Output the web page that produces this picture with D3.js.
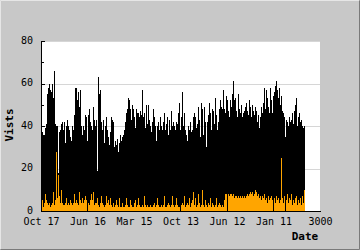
<!DOCTYPE html>
<html>
<head>
<meta charset="utf-8">
<script src="https://cdn.jsdelivr.net/npm/d3@7"></script>
<style>
  html, body { margin: 0; padding: 0; background: #c8c8c8; }
  svg { display: block; }
</style>
</head>
<body>
<div id="wrapper"></div>
<script>
// visits per bar, oldest at the left edge (one value per bar)
const visits = [
  41, 37, 36, 36, 39, 41, 55, 58, 60, 57,
  56, 60, 53, 66, 41, 40, 40, 18, 37, 38,
  41, 42, 38, 42, 32, 40, 43, 40, 38, 35,
  33, 40, 38, 45, 58, 58, 52, 56, 49, 57,
  40, 36, 40, 38, 45, 44, 33, 45, 48, 42,
  40, 38, 49, 43, 40, 43, 19, 63, 55, 57,
  42, 38, 43, 32, 40, 44, 38, 35, 31, 37,
  44, 43, 42, 30, 33, 31, 34, 28, 32, 36,
  33, 35, 36, 38, 42, 46, 48, 53, 52, 48,
  43, 50, 48, 44, 39, 48, 46, 46, 44, 47,
  45, 57, 44, 46, 39, 50, 41, 50, 43, 40,
  37, 42, 48, 44, 40, 33, 40, 42, 38, 44,
  40, 38, 42, 46, 38, 41, 44, 36, 43, 38,
  47, 40, 42, 40, 38, 42, 41, 46, 51, 38,
  44, 56, 40, 46, 38, 36, 33, 40, 38, 42,
  37, 38, 44, 46, 44, 39, 41, 49, 43, 35,
  51, 48, 36, 49, 42, 30, 42, 45, 51, 46,
  38, 48, 47, 41, 53, 45, 38, 42, 48, 52,
  49, 48, 57, 48, 46, 54, 52, 47, 44, 52,
  49, 55, 61, 52, 53, 47, 44, 55, 48, 46,
  50, 44, 46, 47, 49, 51, 47, 45, 52, 49,
  44, 50, 47, 45, 49, 47, 42, 45, 39, 44,
  49, 46, 51, 58, 48, 57, 53, 49, 46, 58,
  52, 46, 54, 56, 59, 61, 57, 53, 58, 50,
  54, 47, 46, 44, 35, 43, 42, 40, 44, 42,
  43, 46, 41, 47, 50, 53, 40, 44, 46, 42,
  43, 40, 39, 40,
]

// the orange series drawn over the visits
const other = [
  4, 5, 2, 4, 8, 5, 4, 3, 4, 2,
  3, 4, 9, 3, 5, 28, 6, 17, 7, 4,
  10, 4, 3, 3, 4, 6, 3, 4, 3, 5,
  4, 3, 4, 8, 4, 5, 4, 3, 9, 5,
  4, 6, 4, 5, 7, 5, 0, 4, 3, 5,
  8, 5, 9, 3, 4, 4, 6, 3, 2, 4,
  7, 4, 3, 2, 3, 7, 4, 5, 3, 6,
  3, 2, 4, 2, 3, 5, 3, 2, 6, 2,
  2, 4, 2, 2, 3, 6, 3, 2, 2, 5,
  3, 2, 2, 4, 5, 2, 3, 6, 3, 2,
  2, 3, 2, 7, 3, 2, 3, 2, 2, 3,
  2, 2, 3, 4, 2, 3, 6, 3, 2, 2,
  3, 2, 3, 7, 2, 2, 3, 4, 3, 2,
  3, 7, 3, 2, 3, 6, 3, 2, 2, 0,
  3, 4, 3, 7, 2, 3, 4, 3, 6, 2,
  4, 5, 9, 3, 6, 2, 3, 8, 4, 2,
  3, 10, 3, 2, 5, 3, 2, 4, 3, 6,
  2, 4, 3, 2, 3, 6, 2, 3, 4, 3,
  2, 3, 2, 5, 8, 8, 0, 8, 7, 8,
  8, 7, 8, 6, 7, 7, 6, 7, 6, 7,
  6, 7, 6, 7, 6, 7, 8, 7, 8, 9,
  8, 9, 7, 8, 10, 9, 7, 8, 6, 7,
  5, 7, 6, 8, 5, 6, 4, 7, 5, 6,
  7, 5, 0, 6, 4, 7, 5, 6, 4, 5,
  25, 6, 4, 7, 0, 5, 8, 4, 6, 5,
  8, 3, 5, 4, 6, 7, 3, 5, 4, 6,
  3, 7, 4, 10,
]

const xTicks = [0, 500, 1000, 1500, 2000, 2500, 3000]
const xTickLabels = ['Oct 17', 'Jun 16', 'Mar 15', 'Oct 13', 'Jun 12', 'Jan 11', '3000']
const yTicks = [0, 20, 40, 60, 80]
const yMinorTicks = [10, 30, 50, 70]
const gridTicks = [20, 40, 60, 80]

const daysPerBar = 3000 / 279

const dimensions = {
  width: 360,
  height: 250,
  margin: { top: 41, right: 40, bottom: 39, left: 41 },
}
dimensions.boundedWidth = dimensions.width - dimensions.margin.left - dimensions.margin.right
dimensions.boundedHeight = dimensions.height - dimensions.margin.top - dimensions.margin.bottom

const wrapper = d3.select('#wrapper')
  .append('svg')
  .attr('width', dimensions.width)
  .attr('height', dimensions.height)

wrapper.append('rect')
  .attr('width', dimensions.width)
  .attr('height', dimensions.height)
  .attr('fill', '#c8c8c8')

// bevel frame
wrapper.append('path')
  .attr('d', `M0.5,${dimensions.height - 1} V0.5 H${dimensions.width - 1}`)
  .attr('stroke', '#e6e6e6').attr('fill', 'none')
wrapper.append('path')
  .attr('d', `M0.5,${dimensions.height - 0.5} H${dimensions.width - 0.5} V0.5`)
  .attr('stroke', '#7a7a7a').attr('fill', 'none')

const bounds = wrapper.append('g')
  .attr('transform', `translate(${dimensions.margin.left},${dimensions.margin.top})`)

bounds.append('rect')
  .attr('width', dimensions.boundedWidth)
  .attr('height', dimensions.boundedHeight)
  .attr('fill', 'white')

const xScale = d3.scaleLinear()
  .domain([0, 3000])
  .range([0, dimensions.boundedWidth])

const yScale = d3.scaleLinear()
  .domain([0, 80])
  .range([dimensions.boundedHeight, 0])

bounds.append('g')
  .selectAll('line')
  .data(gridTicks)
  .enter().append('line')
  .attr('x1', 0)
  .attr('x2', dimensions.boundedWidth)
  .attr('y1', d => Math.round(yScale(d)) + 0.5)
  .attr('y2', d => Math.round(yScale(d)) + 0.5)
  .attr('stroke', '#d6d6d6')

const barX = i => Math.round(xScale(i * daysPerBar))
const barW = Math.max(1, Math.round(xScale(daysPerBar) - xScale(0)))

bounds.append('g')
  .attr('shape-rendering', 'crispEdges')
  .selectAll('rect')
  .data(visits)
  .enter().append('rect')
  .attr('x', (d, i) => barX(i))
  .attr('y', d => Math.round(yScale(d)))
  .attr('width', barW)
  .attr('height', d => dimensions.boundedHeight - Math.round(yScale(d)))
  .attr('fill', 'black')

bounds.append('g')
  .attr('shape-rendering', 'crispEdges')
  .selectAll('rect')
  .data(other)
  .enter().append('rect')
  .attr('x', (d, i) => barX(i))
  .attr('y', d => Math.round(yScale(d)))
  .attr('width', barW)
  .attr('height', d => dimensions.boundedHeight - Math.round(yScale(d)))
  .attr('fill', '#ffa500')

const font = '"DejaVu Sans Mono", monospace'

const xAxisGenerator = d3.axisBottom()
  .scale(xScale)
  .tickValues(xTicks)
  .tickFormat((d, i) => xTickLabels[i])
  .tickSize(0)
  .tickPadding(7)

const xAxis = bounds.append('g')
  .attr('transform', `translate(0,${dimensions.boundedHeight})`)
  .call(xAxisGenerator)
xAxis.select('.domain').attr('stroke', 'black').attr('shape-rendering', 'crispEdges')
xAxis.selectAll('text')
  .attr('font-family', font)
  .attr('font-size', 10)
  .attr('fill', 'black')

const yAxisGenerator = d3.axisLeft()
  .scale(yScale)
  .tickValues(yTicks)
  .tickSizeInner(-4)
  .tickSizeOuter(0)
  .tickPadding(8)

const yAxis = bounds.append('g')
  .call(yAxisGenerator)
yAxis.attr('shape-rendering', 'crispEdges')
yAxis.selectAll('text')
  .attr('font-family', font)
  .attr('font-size', 10)
  .attr('fill', 'black')
  .attr('dy', '0.2em')

const yMinorAxis = bounds.append('g')
  .call(d3.axisLeft().scale(yScale).tickValues(yMinorTicks).tickSizeInner(-3).tickSizeOuter(0).tickFormat(''))
yMinorAxis.attr('shape-rendering', 'crispEdges')
yMinorAxis.select('.domain').remove()

wrapper.append('text')
  .attr('x', dimensions.margin.left + dimensions.boundedWidth - 15)
  .attr('y', 240)
  .attr('text-anchor', 'middle')
  .attr('font-family', font)
  .attr('font-size', 11)
  .attr('font-weight', 'bold')
  .text('Date')

wrapper.append('text')
  .attr('transform', `translate(13, ${dimensions.margin.top + 84}) rotate(-90)`)
  .attr('text-anchor', 'middle')
  .attr('font-family', font)
  .attr('font-size', 11)
  .attr('font-weight', 'bold')
  .text('Vists')
</script>
</body>
</html>
